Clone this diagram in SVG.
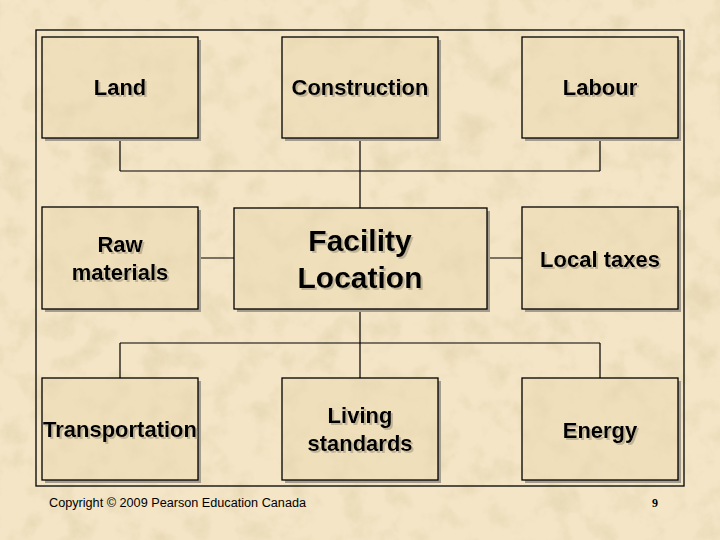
<svg xmlns="http://www.w3.org/2000/svg" width="720" height="540" viewBox="0 0 720 540">
<defs>
<filter id="tex" x="0" y="0" width="100%" height="100%">
<feTurbulence type="fractalNoise" baseFrequency="0.035" numOctaves="4" seed="3"/>
<feColorMatrix type="matrix" values="0 0 0 0 0.55  0 0 0 0 0.42  0 0 0 0 0.2  0 0 0 -1.4 0.75"/>
</filter>
<filter id="btex" x="0" y="0" width="100%" height="100%">
<feTurbulence type="fractalNoise" baseFrequency="0.04" numOctaves="4" seed="7" result="n"/>
<feColorMatrix in="n" type="matrix" values="0 0 0 0 0.6  0 0 0 0 0.47  0 0 0 0 0.25  0 0 0 -1.2 0.65" result="c"/>
<feComponentTransfer in="c" result="c2"><feFuncA type="linear" slope="0.35"/></feComponentTransfer>
<feComposite in="c2" in2="SourceGraphic" operator="atop"/>
</filter>
<filter id="ts" x="-10%" y="-20%" width="130%" height="150%">
<feOffset dx="2" dy="2" in="SourceAlpha" result="o"/>
<feFlood flood-color="#9a8f7a" flood-opacity="0.55"/>
<feComposite in2="o" operator="in" result="s"/>
<feMerge><feMergeNode in="s"/><feMergeNode in="SourceGraphic"/></feMerge>
</filter>
<style>
.fill{fill:#efdfbb;filter:url(#btex)}
.box{fill:none;stroke:#000;stroke-width:1.3}
.sh{fill:#a49c8c}
.lbl{font-family:"Liberation Sans",Arial,sans-serif;font-weight:bold;font-size:22px;text-anchor:middle;fill:#000}
.big{font-size:30px}
.con{stroke:#000;stroke-width:1.2;fill:none}
</style>
</defs>
<rect width="720" height="540" fill="#f3e5c6"/>
<rect width="720" height="540" filter="url(#tex)" opacity="0.4"/>
<rect x="36" y="30" width="648" height="456" fill="none" stroke="#000" stroke-width="1.3"/>
<g id="connectors" class="con">
<path d="M120,138V171M600,138V171M120,171H600M360,138V208"/>
<path d="M198,258H234M487,258H522"/>
<path d="M360,309V343M120,343H600M120,343V378M600,343V378M360,343V378"/>
</g>
<g id="land"><rect class="sh" x="45" y="40" width="156" height="101"/><rect class="fill" x="42" y="37" width="156" height="101"/><rect class="box" x="42" y="37" width="156" height="101"/><text class="lbl" filter="url(#ts)" x="120" y="95">Land</text></g>
<g id="construction"><rect class="sh" x="285" y="40" width="156" height="101"/><rect class="fill" x="282" y="37" width="156" height="101"/><rect class="box" x="282" y="37" width="156" height="101"/><text class="lbl" filter="url(#ts)" x="360" y="95">Construction</text></g>
<g id="labour"><rect class="sh" x="525" y="40" width="156" height="101"/><rect class="fill" x="522" y="37" width="156" height="101"/><rect class="box" x="522" y="37" width="156" height="101"/><text class="lbl" filter="url(#ts)" x="600" y="95">Labour</text></g>
<g id="raw"><rect class="sh" x="45" y="210" width="156" height="102"/><rect class="fill" x="42" y="207" width="156" height="102"/><rect class="box" x="42" y="207" width="156" height="102"/><text class="lbl" filter="url(#ts)" x="120" y="252">Raw</text><text class="lbl" filter="url(#ts)" x="120" y="280">materials</text></g>
<g id="facility"><rect class="sh" x="237" y="211" width="253" height="101"/><rect class="fill" x="234" y="208" width="253" height="101"/><rect class="box" x="234" y="208" width="253" height="101"/><text class="lbl big" filter="url(#ts)" x="360" y="251">Facility</text><text class="lbl big" filter="url(#ts)" x="360" y="288">Location</text></g>
<g id="taxes"><rect class="sh" x="525" y="210" width="156" height="102"/><rect class="fill" x="522" y="207" width="156" height="102"/><rect class="box" x="522" y="207" width="156" height="102"/><text class="lbl" filter="url(#ts)" x="600" y="267">Local taxes</text></g>
<g id="transport"><rect class="sh" x="45" y="381" width="156" height="102"/><rect class="fill" x="42" y="378" width="156" height="102"/><rect class="box" x="42" y="378" width="156" height="102"/><text class="lbl" filter="url(#ts)" x="120" y="437">Transportation</text></g>
<g id="living"><rect class="sh" x="285" y="381" width="156" height="102"/><rect class="fill" x="282" y="378" width="156" height="102"/><rect class="box" x="282" y="378" width="156" height="102"/><text class="lbl" filter="url(#ts)" x="360" y="423">Living</text><text class="lbl" filter="url(#ts)" x="360" y="451">standards</text></g>
<g id="energy"><rect class="sh" x="525" y="381" width="156" height="102"/><rect class="fill" x="522" y="378" width="156" height="102"/><rect class="box" x="522" y="378" width="156" height="102"/><text class="lbl" filter="url(#ts)" x="600" y="438">Energy</text></g>
<text x="49" y="507" font-family="'Liberation Sans',Arial,sans-serif" font-size="12" textLength="257" lengthAdjust="spacingAndGlyphs" fill="#000">Copyright © 2009 Pearson Education Canada</text>
<text x="655" y="507" font-family="'Liberation Serif','Times New Roman',serif" font-weight="bold" font-size="12" text-anchor="middle" fill="#000">9</text>
</svg>
